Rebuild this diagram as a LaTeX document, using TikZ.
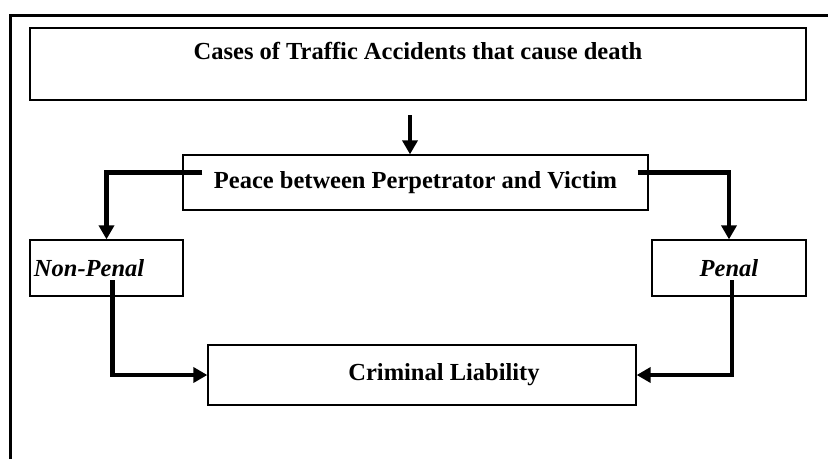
\documentclass[tikz,border=0pt]{standalone}
\usepackage{fontspec}
\setmainfont{Liberation Serif}
\usetikzlibrary{arrows.meta}

\tikzset{
  box/.style={draw, line width=1.3pt, inner sep=0pt, font=\bfseries\fontsize{24.5}{29}\selectfont},
  flow/.style={line width=4.5pt, -{Triangle[length=14pt,width=15pt]}}
}

\begin{document}
\begin{tikzpicture}[x=1pt, y=1pt]
  \useasboundingbox (0,0) rectangle (828,-459);
  % outer frame
  \draw [line width=3pt] (10,-459) -- (10,-15) -- (828,-15);

  \node [box, minimum width=776pt, minimum height=72pt, text depth=26pt] (cases) at (418,-64) {Cases of Traffic Accidents that cause death};
  \node [box, minimum width=465pt, minimum height=55pt] (peace) at (415.5,-182.5) {Peace between Perpetrator and Victim};
  \node [box, minimum width=153pt, minimum height=56pt, text width=145pt, align=left] (nonpenal) at (106.5,-268) {\itshape Non-Penal};
  \node [box, minimum width=154pt, minimum height=56pt] (penal) at (729,-268) {\itshape Penal};
  \node [box, minimum width=428pt, minimum height=60pt] (crim) at (422,-375) {\hspace*{44pt}Criminal Liability};

  \coordinate (top) at (410,-115);
  \draw [flow] (top) -- (top |- peace.north);
  \draw [flow] ([xshift=20pt,yshift=10pt]peace.west) -| (nonpenal.north);
  \draw [flow] ([xshift=-11pt,yshift=10pt]peace.east) -| (penal.north);
  \draw [flow] ([xshift=6pt,yshift=-12pt]nonpenal.center) |- (crim.west);
  \draw [flow] ([xshift=3pt,yshift=-12pt]penal.center) |- (crim.east);
\end{tikzpicture}
\end{document}
